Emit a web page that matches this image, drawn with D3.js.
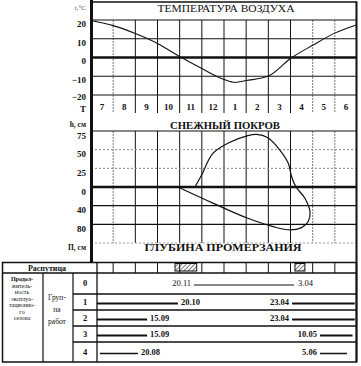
<!DOCTYPE html>
<html><head><meta charset="utf-8">
<script src="https://cdn.jsdelivr.net/npm/d3@7"></script>
<style>
html,body{margin:0;padding:0;background:#fff;}
svg{display:block;font-family:"Liberation Serif","DejaVu Serif",serif;}
</style></head><body>
<svg id="c" width="361" height="366"></svg>
<script>
// ---------- DATA ----------
const months = ["7","8","9","10","11","12","1","2","3","4","5","6"];
// air temperature, position in months from 1 July
const tempPos = [0,1,2,3,4,5,6,6.5,7,8,9,10,11,12];
const tempVal = [19.7,17,12.8,7.5,0.5,-5.9,-11.7,-13.3,-12.3,-9.9,-0.5,6.5,13,17.5];
const tempTicks = [20,10,0,-10,-20];
// snow cover depth, cm
const snowPos = [4.69,4.99,5.50,6.27,7.04,7.47,7.98,8.52,8.90,9.05,9.25];
const snowVal = [0,16,45,60,68.5,70.5,66,49.5,31.7,13.8,0];
const snowTicks = [75,50,25,0];
// freezing depth, cm (drawn as a loop)
const frostPos = [3.92,5.52,7.02,8.22,8.98,9.50,9.80,9.88,9.65,9.25];
const frostVal = [0,35,66,85,92,87,74,53,24,0];
const frostTicks = [40,80];
// rasputitsa (impassable roads) periods, months from 1 July
const rasStart = [3.79,9.2];
const rasEnd = [4.77,9.65];
// work groups
const groups = ["0","1","2","3","4"];
const autumnDates = ["20.11","20.10","15.09","15.09","20.08"];
const springDates = ["3.04","23.04","23.04","10.05","5.06"];
const autumnPos = [4.65,3.92,2.53,2.53,2.12];
const springPos = [9.16,9.07,9.07,10.33,10.33];
const seasonStart = [null,0.27,0.27,0.27,0.4];
const seasonEnd = [null,11.9,11.9,11.8,11.55];

// ---------- LAYOUT ----------
const svg = d3.select("#c");
const x = d3.scaleLinear().domain([0,12]).range([91,357]);
const tY = d3.scaleLinear().domain([-20,20]).range([95,20]);
const sY = d3.scaleLinear().domain([0,75]).range([187,131]);
const fY = d3.scaleLinear().domain([0,120]).range([187,243]);
const ink = "#111";

function hline(y,x1,x2,w,col,dash){
  svg.append("line").attr("x1",x1).attr("x2",x2).attr("y1",y).attr("y2",y)
    .attr("stroke",col||ink).attr("stroke-width",w||1).attr("stroke-dasharray",dash||null);
}
function vline(xx,y1,y2,w,col,dash){
  svg.append("line").attr("x1",xx).attr("x2",xx).attr("y1",y1).attr("y2",y2)
    .attr("stroke",col||ink).attr("stroke-width",w||1).attr("stroke-dasharray",dash||null);
}
const vStyle = i => (i===1||i===10||i===11) ? ["#777","2,1"] : [ink,null];

// ---------- TEMPERATURE PANEL ----------
months.forEach((m,i)=>{ if(i>0){ const s=vStyle(i); vline(x(i),20,113,1,s[0],s[1]); } });
tempTicks.forEach(t=> hline(tY(t),91,357,t===0?2.5:1.2));
svg.append("g").selectAll("text").data(months).join("text")
  .attr("x",(d,i)=>x(i+0.5)).attr("y",110).attr("text-anchor","middle")
  .attr("font-size",9).attr("font-weight","bold").attr("fill",ink).text(d=>d);
svg.append("text").attr("x",226).attr("y",12).attr("text-anchor","middle")
  .attr("font-size",10.5).attr("textLength",137).attr("lengthAdjust","spacingAndGlyphs")
  .attr("fill",ink).text("ТЕМПЕРАТУРА ВОЗДУХА");
const axT = svg.append("g").attr("transform","translate(91,0)")
  .call(d3.axisLeft(tY).tickValues(tempTicks).tickSize(0).tickPadding(5));
axT.select(".domain").remove();
axT.selectAll("text").attr("font-size",9).attr("font-weight","bold").attr("fill",ink)
  .attr("dy",d=>d===-20?"0.45em":"0.72em").attr("font-family","Liberation Serif, serif");
svg.append("text").attr("x",86).attr("y",10).attr("text-anchor","end").attr("font-size",7)
  .attr("fill","#555").text("t,°C");
svg.append("text").attr("x",86).attr("y",112).attr("text-anchor","end").attr("font-size",9)
  .attr("font-weight","bold").attr("fill",ink).text("Т");
const tLine = d3.line().x((d,i)=>x(tempPos[i])).y(d=>tY(d)).curve(d3.curveMonotoneX);
svg.append("path").attr("d",tLine(tempVal)).attr("fill","none").attr("stroke",ink).attr("stroke-width",1.1);

// ---------- SNOW / FROST PANEL ----------
months.forEach((m,i)=>{ if(i>0){ const s=vStyle(i); vline(x(i),131,243,1,s[0],s[1]); } });
hline(sY(75),91,357,1.2);
hline(sY(50),91,357,1,"#888","2,2");
hline(sY(25),91,357,1,"#888","2,2");
hline(sY(0),91,357,2.5);
frostTicks.forEach(v=>hline(fY(v),91,357,1.2));
hline(fY(120),91,357,1,"#999","2,2");
const axS = svg.append("g").attr("transform","translate(91,0)")
  .call(d3.axisLeft(sY).tickValues(snowTicks).tickSize(0).tickPadding(5));
axS.select(".domain").remove();
const axF = svg.append("g").attr("transform","translate(91,0)")
  .call(d3.axisLeft(fY).tickValues(frostTicks).tickSize(0).tickPadding(5));
axF.select(".domain").remove();
[axS,axF].forEach(a=>a.selectAll("text").attr("font-size",9).attr("font-weight","bold")
  .attr("fill",ink).attr("dy","0.8em").attr("font-family","Liberation Serif, serif"));
svg.append("text").attr("x",86).attr("y",127).attr("text-anchor","end").attr("font-size",7.5)
  .attr("font-weight","bold").attr("fill",ink).text("h, см");
svg.append("text").attr("x",86).attr("y",250).attr("text-anchor","end").attr("font-size",7.5)
  .attr("font-weight","bold").attr("fill",ink).text("П, см");
svg.append("text").attr("x",225).attr("y",129).attr("text-anchor","middle")
  .attr("font-size",10).attr("font-weight","bold").attr("textLength",110)
  .attr("lengthAdjust","spacingAndGlyphs").attr("fill",ink).text("СНЕЖНЫЙ ПОКРОВ");
svg.append("text").attr("x",223).attr("y",251).attr("text-anchor","middle")
  .attr("font-size",10).attr("font-weight","bold").attr("textLength",157)
  .attr("lengthAdjust","spacingAndGlyphs").attr("fill",ink).text("ГЛУБИНА ПРОМЕРЗАНИЯ");
const loopPts = frostPos.map((p,i)=>[x(p),fY(frostVal[i])])
  .concat(snowPos.slice(0,-1).map((p,i)=>[x(p),sY(snowVal[i])]).reverse());
svg.append("path").attr("d",d3.line().curve(d3.curveCatmullRom.alpha(0.5))(loopPts))
  .attr("fill","none").attr("stroke",ink).attr("stroke-width",1.2);

// ---------- FRAME ----------
vline(91.5,0,262,3);
hline(2,91,357,1.5);
vline(356.5,1.5,362,2);

// ---------- TABLE ----------
const rows = [273,294,310,326,342,362];
const defs = svg.append("defs");
const pat = defs.append("pattern").attr("id","hatch").attr("patternUnits","userSpaceOnUse")
  .attr("width",3).attr("height",3).attr("patternTransform","rotate(45)");
pat.append("rect").attr("width",3).attr("height",3).attr("fill","#fff");
pat.append("line").attr("x1",0).attr("y1",0).attr("x2",0).attr("y2",3).attr("stroke","#222").attr("stroke-width",1.2);
svg.append("g").selectAll("rect").data(rasStart).join("rect")
  .attr("x",d=>x(d)).attr("y",263.5).attr("width",(d,i)=>x(rasEnd[i])-x(d)).attr("height",7.5)
  .attr("fill","url(#hatch)").attr("stroke",ink).attr("stroke-width",1);
months.forEach((m,i)=>{ if(i>0) vline(x(i),262,273,1); });
svg.append("rect").attr("x",2.5).attr("y",262.5).attr("width",354).attr("height",99.5)
  .attr("fill","none").attr("stroke",ink).attr("stroke-width",1.5);
hline(273,2,357,1.3);
vline(97,262,362,1.3);
vline(43,273,362,1.2);
vline(73,273,362,1.2);
rows.slice(1,-1).forEach(r=>hline(r,73,357,1.3));
svg.append("text").attr("x",47).attr("y",271).attr("text-anchor","middle").attr("font-size",8)
  .attr("font-weight","bold").attr("fill",ink).text("Распутица");
const lcol = ["Продол-","житель-","ность","эксплуа-","тационно-","го","сезона"];
lcol.forEach((t,i)=>svg.append("text").attr("x",22).attr("y",281+i*6.5).attr("text-anchor","middle")
  .attr("font-size",6).attr("font-weight",i===0?"bold":"normal").attr("fill",ink).text(t));
["Груп-","па","работ"].forEach((t,i)=>svg.append("text").attr("x",57).attr("y",300+i*12)
  .attr("text-anchor","middle").attr("font-size",7.5).attr("fill",ink).text(t));
groups.forEach((g,i)=>{
  const base = (rows[i]+rows[i+1])/2 + 2.5;
  svg.append("text").attr("x",85).attr("y",base).attr("text-anchor","middle")
    .attr("font-size",8.5).attr("font-weight","bold").attr("fill",ink).text(g);
  const by = base - 1;
  if(i===0){
    hline(by,x(autumnPos[i]),x(springPos[i]),1);
    svg.append("text").attr("x",x(autumnPos[i])-3).attr("y",base).attr("text-anchor","end")
      .attr("font-size",8.5).attr("fill",ink).text(autumnDates[i]);
    svg.append("text").attr("x",x(springPos[i])+4).attr("y",base).attr("text-anchor","start")
      .attr("font-size",8.5).attr("fill",ink).text(springDates[i]);
  } else {
    const w = i===4 ? 1.5 : 2;
    hline(by,x(seasonStart[i]),x(autumnPos[i]),w);
    hline(by,x(springPos[i]),x(seasonEnd[i]),w);
    svg.append("text").attr("x",x(autumnPos[i])+3).attr("y",base).attr("text-anchor","start")
      .attr("font-size",8.5).attr("font-weight","bold").attr("fill",ink).text(autumnDates[i]);
    svg.append("text").attr("x",x(springPos[i])-3).attr("y",base).attr("text-anchor","end")
      .attr("font-size",8.5).attr("font-weight","bold").attr("fill",ink).text(springDates[i]);
  }
});
</script>
</body></html>
